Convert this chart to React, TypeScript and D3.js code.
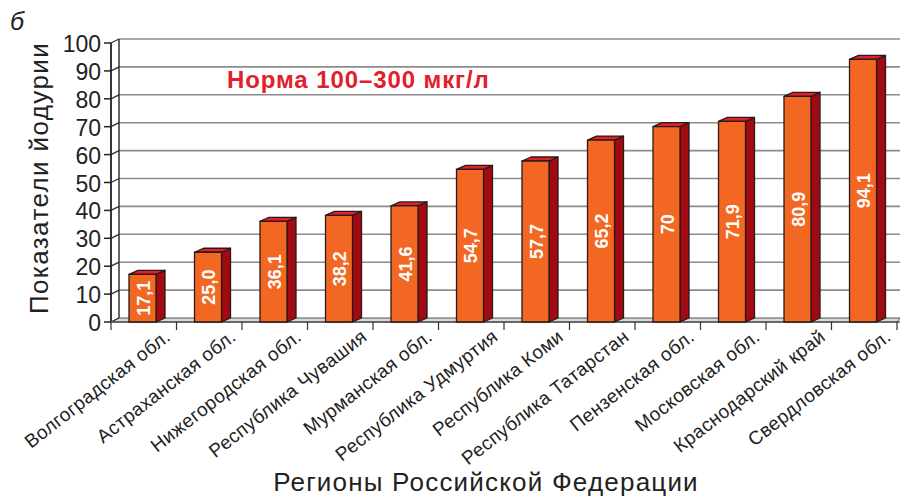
import React from "react";
import * as d3 from "d3";

const categories = [
  "Волгоградская обл.",
  "Астраханская обл.",
  "Нижегородская обл.",
  "Республика Чувашия",
  "Мурманская обл.",
  "Республика Удмуртия",
  "Республика Коми",
  "Республика Татарстан",
  "Пензенская обл.",
  "Московская обл.",
  "Краснодарский край",
  "Свердловская обл.",
];
const values = [17.1, 25.0, 36.1, 38.2, 41.6, 54.7, 57.7, 65.2, 70, 71.9, 80.9, 94.1];
const valueLabels = ["17,1", "25,0", "36,1", "38,2", "41,6", "54,7", "57,7", "65,2", "70", "71,9", "80,9", "94,1"];
const yTicks = [0, 10, 20, 30, 40, 50, 60, 70, 80, 90, 100];

const W = 900;
const H = 498;
const FONT = "'Liberation Sans', Arial, Helvetica, sans-serif";

export default function App() {
  const x = d3.scaleBand<string>().domain(categories).range([111, 897]).padding(0);
  const y = d3.scaleLinear().domain([0, 100]).range([322, 43]);
  const wdx = 8, wdy = -4; // wall depth
  const bdx = 9, bdy = -4; // bar depth
  const barOff = 18, barW = 27;
  const left = 111, right = 897;

  return (
    <svg width={W} height={H} viewBox={`0 0 ${W} ${H}`} style={{ position: "absolute", left: 0, top: 0, background: "#fff" }}>
      {/* floor */}
      <polygon
        points={`${left},${y(0)} ${left + wdx},${y(0) + wdy} ${right + 3},${y(0) + wdy} ${right},${y(0)}`}
        fill="#d9d9d9"
        stroke="#555"
        strokeWidth={1}
      />
      {/* gridlines on back wall */}
      {yTicks.map((t) => (
        <g key={t}>
          {t > 0 && (
            <line x1={left + wdx} x2={W} y1={y(t) + wdy} y2={y(t) + wdy} stroke="#8c8c8c" strokeWidth={1.6} />
          )}
          <line x1={left} x2={left + wdx} y1={y(t)} y2={y(t) + wdy} stroke="#333" strokeWidth={1.3} />
          <line x1={left - 7} x2={left} y1={y(t)} y2={y(t)} stroke="#222" strokeWidth={1.5} />
          <text
            x={left - 10}
            y={y(t) + 1}
            textAnchor="end"
            dominantBaseline="central"
            fontFamily={FONT}
            fontSize={23}
            fill="#222"
          >
            {t}
          </text>
        </g>
      ))}
      {/* back wall left edge */}
      <line x1={left + wdx} x2={left + wdx} y1={y(100) + wdy} y2={y(0) + wdy} stroke="#333" strokeWidth={1.5} />
      {/* front y axis */}
      <line x1={left} x2={left} y1={y(100)} y2={y(0)} stroke="#222" strokeWidth={1.8} />
      {/* x axis */}
      <line x1={left} x2={right + 3} y1={y(0)} y2={y(0)} stroke="#555" strokeWidth={1.5} />
      {categories.map((c, i) => (
        <line key={"t" + i} x1={x(c)!} x2={x(c)!} y1={y(0)} y2={y(0) + 8} stroke="#333" strokeWidth={1.2} />
      ))}
      <line x1={right} x2={right} y1={y(0)} y2={y(0) + 8} stroke="#333" strokeWidth={1.2} />

      {/* bars */}
      {categories.map((c, i) => {
        const x0 = x(c)! + barOff;
        const x1 = x0 + barW;
        const yt = y(values[i]);
        const yb = y(0);
        return (
          <g key={"b" + i} stroke="#2a1a1a" strokeWidth={1.3} strokeLinejoin="round">
            <polygon
              points={`${x1},${yt} ${x1 + bdx},${yt + bdy} ${x1 + bdx},${yb + bdy} ${x1},${yb}`}
              fill="#a10a10"
            />
            <polygon
              points={`${x0},${yt} ${x0 + bdx},${yt + bdy} ${x1 + bdx},${yt + bdy} ${x1},${yt}`}
              fill="#e3202a"
            />
            <rect x={x0} y={yt} width={barW} height={yb - yt} fill="#f26722" />
            <text
              transform={`translate(${x0 + barW / 2 + 1},${(yt + yb) / 2}) rotate(-90)`}
              textAnchor="middle"
              dominantBaseline="central"
              fontFamily={FONT}
              fontSize={18}
              fontWeight="bold"
              fill="#fff"
              stroke="none"
            >
              {valueLabels[i]}
            </text>
          </g>
        );
      })}

      {/* category labels */}
      {categories.map((c, i) => {
        const cx = x(c)! + x.bandwidth() / 2 + 28;
        return (
          <text
            key={"l" + i}
            transform={`translate(${cx},${339}) rotate(-38)`}
            textAnchor="end"
            fontFamily={FONT}
            fontSize={19}
            letterSpacing={0.4}
            fill="#222"
          >
            {c}
          </text>
        );
      })}

      {/* norm text */}
      <text x={227} y={88} fontFamily={FONT} fontSize={24} fontWeight="bold" letterSpacing={0.9} fill="#e3202a">
        Норма 100–300 мкг/л
      </text>

      {/* axis titles */}
      <text
        transform={`translate(${48},${178}) rotate(-90)`}
        textAnchor="middle"
        fontFamily={FONT}
        fontSize={26}
        letterSpacing={1.4}
        fill="#222"
      >
        Показатели йодурии
      </text>
      <text x={486} y={491} textAnchor="middle" fontFamily={FONT} fontSize={26} letterSpacing={1.2} fill="#222">
        Регионы Российской Федерации
      </text>
      <text x={10} y={30} fontFamily={FONT} fontSize={25} fontStyle="italic" fill="#222">
        б
      </text>
    </svg>
  );
}
